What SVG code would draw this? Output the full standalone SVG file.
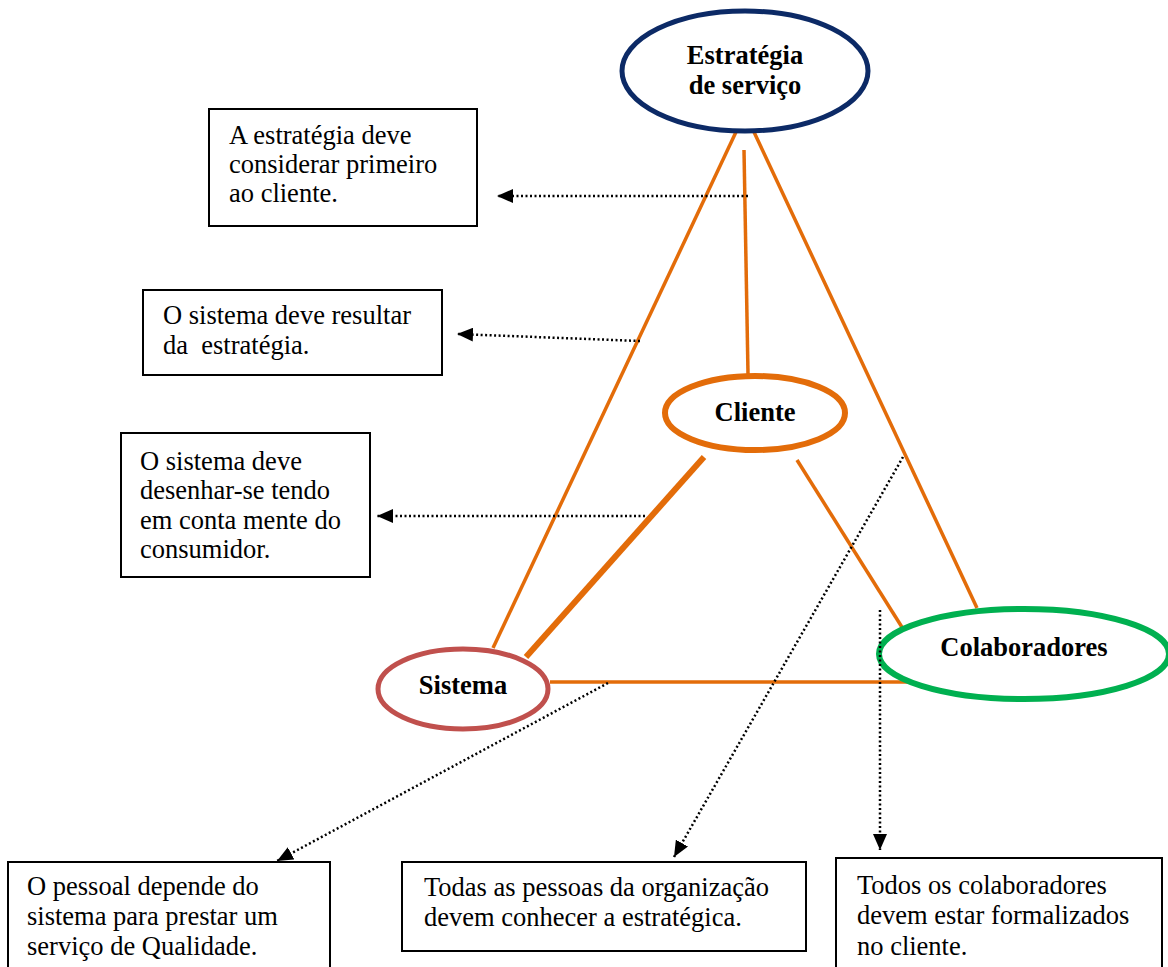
<svg xmlns="http://www.w3.org/2000/svg" width="1168" height="967" viewBox="0 0 1168 967">
  <defs>
    <marker id="arrow" viewBox="0 0 16 14" refX="16" refY="7" markerWidth="16" markerHeight="14" markerUnits="userSpaceOnUse" orient="auto">
      <path d="M0,0 L16,7 L0,14 Z" fill="#000"/>
    </marker>
    <style>
      .note { fill: #fff; stroke: #000; stroke-width: 2; }
      .txt { font-family: "Liberation Serif", "Times New Roman", serif; font-size: 26.5px; fill: #000; }
      .lbl { font-family: "Liberation Serif", "Times New Roman", serif; font-size: 26.5px; font-weight: bold; fill: #000; text-anchor: middle; }
      .edge { stroke: #e36c09; stroke-width: 3.5; fill: none; }
      .dot { stroke: #000; stroke-width: 2.5; stroke-dasharray: 2 2.5; fill: none; marker-end: url(#arrow); }
    </style>
  </defs>
  <rect width="1168" height="967" fill="#fff"/>

  <!-- orange relations between the four elements -->
  <g id="connectors">
    <line class="edge" x1="736" y1="132" x2="493" y2="648"/>
    <line class="edge" x1="754" y1="132" x2="977" y2="608"/>
    <line class="edge" x1="744" y1="150" x2="748" y2="374"/>
    <line class="edge" x1="704" y1="457" x2="526" y2="657" style="stroke-width:6"/>
    <line class="edge" x1="797" y1="460" x2="905" y2="632"/>
    <line class="edge" x1="550" y1="682" x2="910" y2="682"/>
  </g>

  <g id="estrategia">
    <ellipse cx="745" cy="71" rx="123" ry="60" fill="#fff" stroke="#0c2a66" stroke-width="5"/>
    <text class="lbl" x="745" y="64">Estratégia</text>
    <text class="lbl" x="745" y="94">de serviço</text>
  </g>

  <g id="cliente">
    <ellipse cx="755" cy="413" rx="90" ry="37" fill="#fff" stroke="#e36c09" stroke-width="6"/>
    <text class="lbl" x="755" y="421">Cliente</text>
  </g>

  <g id="sistema">
    <ellipse cx="463" cy="689" rx="85" ry="40" fill="#fff" stroke="#c0504d" stroke-width="5"/>
    <text class="lbl" x="463" y="694">Sistema</text>
  </g>

  <g id="colaboradores">
    <ellipse cx="1024" cy="654" rx="145" ry="45" fill="#fff" stroke="#00b050" stroke-width="6"/>
    <text class="lbl" x="1024" y="656">Colaboradores</text>
  </g>

  <!-- dotted pointers to the notes, drawn above the ellipses -->
  <g id="pointers">
    <line class="dot" x1="748" y1="196" x2="497" y2="196"/>
    <line class="dot" x1="640" y1="341" x2="457" y2="334"/>
    <line class="dot" x1="645" y1="516" x2="377" y2="516"/>
    <line class="dot" x1="608" y1="683" x2="277" y2="861"/>
    <line class="dot" x1="903" y1="457" x2="674" y2="857"/>
    <line class="dot" x1="880" y1="610" x2="880" y2="850"/>
  </g>

  <g id="nota-estrategia">
    <rect class="note" x="209" y="109" width="268" height="117"/>
    <text class="txt" x="229" y="144">A estratégia deve</text>
    <text class="txt" x="229" y="173">considerar primeiro</text>
    <text class="txt" x="229" y="202">ao cliente.</text>
  </g>

  <g id="nota-resultar">
    <rect class="note" x="143" y="290" width="299" height="85"/>
    <text class="txt" x="163" y="324">O sistema deve resultar</text>
    <text class="txt" x="163" y="354" xml:space="preserve">da  estratégia.</text>
  </g>

  <g id="nota-desenhar">
    <rect class="note" x="121" y="433" width="249" height="144"/>
    <text class="txt" x="140" y="470">O sistema deve</text>
    <text class="txt" x="140" y="499">desenhar-se tendo</text>
    <text class="txt" x="140" y="529">em conta mente do</text>
    <text class="txt" x="140" y="558">consumidor.</text>
  </g>

  <g id="nota-pessoal">
    <rect class="note" x="8" y="862" width="322" height="110"/>
    <text class="txt" x="27" y="895">O pessoal depende do</text>
    <text class="txt" x="27" y="925">sistema para prestar um</text>
    <text class="txt" x="27" y="955">serviço de Qualidade.</text>
  </g>

  <g id="nota-pessoas">
    <rect class="note" x="402" y="862" width="404" height="89"/>
    <text class="txt" x="424" y="896">Todas as pessoas da organização</text>
    <text class="txt" x="424" y="926">devem conhecer a estratégica.</text>
  </g>

  <g id="nota-colaboradores">
    <rect class="note" x="836" y="858" width="326" height="114"/>
    <text class="txt" x="857" y="894">Todos os colaboradores</text>
    <text class="txt" x="857" y="924">devem estar formalizados</text>
    <text class="txt" x="857" y="955">no cliente.</text>
  </g>
</svg>
